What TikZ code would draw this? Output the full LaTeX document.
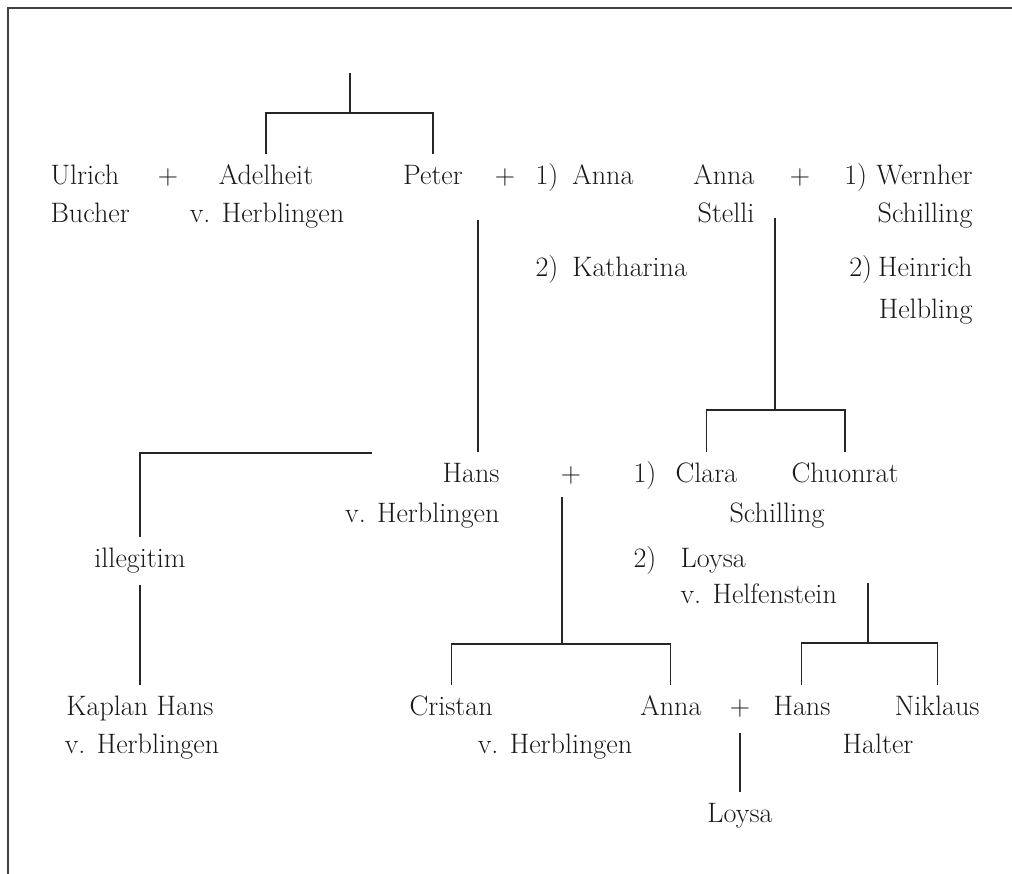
\documentclass[tikz,border=0pt]{standalone}
\usepackage{tikz}
\newcommand\nr[3][0.92cm]{\makebox[#1][l]{#2)}#3}

\begin{document}
\begin{tikzpicture}[x=0.025cm, y=-0.025cm, line width=0.75pt, draw=black!85,
  person/.style={inner xsep=0pt, inner ysep=0.275cm, text height=0.45cm,
    text depth=0.15cm, font=\fontsize{20}{27}\selectfont, text=black!90}]
  \useasboundingbox (0,0) rectangle (1012,874);
  \draw[line width=1pt, black!75] (8,874) -- (8,8) -- (1012,8);

  % first generation
  \node[person,anchor=base west] (ulrich) at (50,184) {Ulrich};
  \node[person,anchor=base west] (bucher) at (50,222) {Bucher};
  \node[person,anchor=base] (plusA) at (168,184) {+};
  \node[person,anchor=base] (adelheit) at (266,184) {Adelheit};
  \node[person,anchor=base] (herblA) at (267,222) {v. Herblingen};
  \node[person,anchor=base] (peter) at (433,184) {Peter};
  \node[person,anchor=base] (plusB) at (505,184) {+};
  \node[person,anchor=base west] (annaA) at (535,184) {\nr{1}{Anna}};
  \node[person,anchor=base west] (katharina) at (535,276) {\nr{2}{Katharina}};
  \node[person,anchor=base east] (annaS) at (755,184) {Anna};
  \node[person,anchor=base east] (stelli) at (755,222) {Stelli};
  \node[person,anchor=base] (plusC) at (800,184) {+};
  \node[person,anchor=base east] (wernher) at (973,184) {\nr[0.8cm]{1}{Wernher}};
  \node[person,anchor=base east] (schillA) at (973,222) {Schilling};
  \node[person,anchor=base east] (heinrich) at (973,276) {\nr[0.72cm]{2}{Heinrich}};
  \node[person,anchor=base east] (helbling) at (973,318) {Helbling};

  % second generation
  \node[person,anchor=base east] (hans) at (500,482) {Hans};
  \node[person,anchor=base east] (herblB) at (500,522) {v. Herblingen};
  \node[person,anchor=base] (plusD) at (571,482) {+};
  \node[person,anchor=base west] (nrA) at (633,482) {1)};
  \node[person,anchor=base west] (clara) at (675,482) {Clara};
  \node[person,anchor=base] (chuonrat) at (845,482) {Chuonrat};
  \node[person,anchor=base] (schillB) at (777,522) {Schilling};
  \node[person,anchor=base west] (loysaA) at (633,567) {\nr[1.18cm]{2}{Loysa}};
  \node[person,anchor=base west] (helfen) at (680,603) {v. Helfenstein};
  \node[person,anchor=base] (illeg) at (140,567) {illegitim};

  % third generation
  \node[person,anchor=base] (kaplan) at (140,715) {Kaplan Hans};
  \node[person,anchor=base] (herblC) at (142,753) {v. Herblingen};
  \node[person,anchor=base west] (cristan) at (409,715) {Cristan};
  \node[person,anchor=base east] (annaH) at (702,715) {Anna};
  \node[person,anchor=base] (herblD) at (555,753) {v. Herblingen};
  \node[person,anchor=base] (plusE) at (740,715) {+};
  \node[person,anchor=base west] (hansH) at (773,715) {Hans};
  \node[person,anchor=base east] (niklaus) at (980,715) {Niklaus};
  \node[person,anchor=base] (halter) at (878,753) {Halter};
  \node[person,anchor=base] (loysaB) at (740,822) {Loysa};

  % descent lines
  \coordinate (root) at (350,73);
  \coordinate (sibs) at (350,113);
  \draw (root) -- (sibs);
  \draw (adelheit.north) |- (sibs) -| (peter.north);

  \coordinate (peterM) at (478,220);
  \draw (peterM) -- (peterM |- hans.north);
  \coordinate (illBar) at (372,453);
  \draw (illBar) -| (illeg.north);
  \draw (illeg.south) -- (kaplan.north);

  \coordinate (stelliM) at (775,218);
  \coordinate (stelliK) at (775,410);
  \draw (stelliM) -- (stelliK);
  \draw (clara.north) |- (stelliK) -| (chuonrat.north);

  \coordinate (hansM) at (562,497);
  \coordinate (hansK) at (562,644);
  \draw (hansM) -- (hansK);
  \draw (cristan.north) |- (hansK) -| (annaH.north);

  \coordinate (loysaM) at (868,583);
  \coordinate (loysaK) at (868,643);
  \draw (loysaM) -- (loysaK);
  \draw (hansH.north) |- (loysaK) -| (niklaus.north);

  \draw (plusE.south) -- (loysaB.north);
\end{tikzpicture}
\end{document}
